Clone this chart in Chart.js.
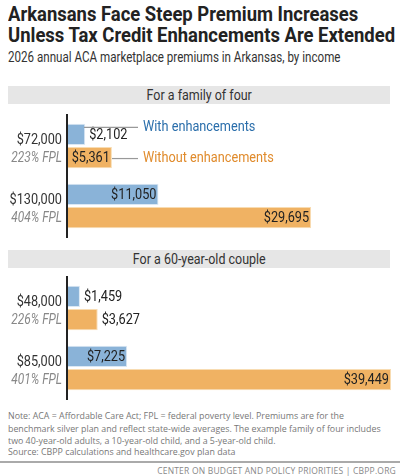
<!DOCTYPE html>
<html><head><meta charset="utf-8">
<script src="https://cdn.jsdelivr.net/npm/chart.js@4"></script>
<style>
body{margin:0;width:400px;height:476px;background:#fff;position:relative;font-family:"Roboto",sans-serif;color:#333;overflow:hidden}
.sx{transform-origin:0 0;white-space:nowrap}
.t{position:absolute;left:8px;top:4px;font:bold 20.5px "Roboto",sans-serif;line-height:21px;color:#222;transform:scaleX(0.9)}
.s{position:absolute;left:8px;top:49px;font:14.5px "Roboto",sans-serif;color:#333;transform:scaleX(0.8)}
.h{position:absolute;left:8px;width:382px;height:18px;background:#e6e6e6;text-align:center;line-height:18px;color:#333}
.h span{display:inline-block;font:14.5px "Roboto",sans-serif;transform:scaleX(0.86)}
.n{position:absolute;left:8px;font:9.3px "Open Sans",sans-serif;color:#777;line-height:12.5px;transform:scaleX(0.95)}
.line{position:absolute;left:0;top:461px;width:400px;height:2px;background:#aaa}
.f{position:absolute;right:4px;top:465px;font:8.5px "Open Sans",sans-serif;color:#888;letter-spacing:0.2px}
canvas{position:absolute;left:0}
</style></head><body>
<div class="t sx">Arkansans Face Steep Premium Increases<br>Unless Tax Credit Enhancements Are Extended</div>
<div class="s sx">2026 annual ACA marketplace premiums in Arkansas, by income</div>
<div class="h" style="top:86px"><span>For a family of four</span></div>
<div class="h" style="top:250px"><span>For a 60-year-old couple</span></div>
<div style="position:absolute;top:110px;left:0;width:400px;height:132px"><canvas id="c1"></canvas></div>
<div style="position:absolute;top:272px;left:0;width:400px;height:132px"><canvas id="c2"></canvas></div>
<div class="n sx" style="top:410px">Note: ACA = Affordable Care Act; FPL = federal poverty level. Premiums are for the<br>benchmark silver plan and reflect state-wide averages. The example family of four includes<br>two 40-year-old adults, a 10-year-old child, and a 5-year-old child.</div>
<div class="n sx" style="top:446px">Source: CBPP calculations and healthcare.gov plan data</div>
<div class="line"></div>
<div class="f">CENTER ON BUDGET AND POLICY PRIORITIES | CBPP.ORG</div>
<script>
const familyIncomes=["$72,000","$130,000"];
const familyFPL=["223% FPL","404% FPL"];
const familyWith=[2102,11050];
const familyWithout=[5361,29695];
const coupleIncomes=["$48,000","$85,000"];
const coupleFPL=["226% FPL","401% FPL"];
const coupleWith=[1459,7225];
const coupleWithout=[3627,39449];
const seriesNames=["With enhancements","Without enhancements"];
const BLUE="#8ab3d8",ORANGE="#f0b263",MAX=39449;
const fmt=v=>"$"+v.toLocaleString("en-US");
const FONT='"Roboto",sans-serif', SX=0.82;
function txt(c,t,x,y,align){
  const w=c.measureText(t).width*SX;
  const x0=align==="right"?x-w:x;
  c.save();c.translate(x0,y);c.scale(SX,1);c.textAlign="left";c.fillText(t,0,0);c.restore();
  return w;
}
function make(id,incomes,fpl,w,wo,legend){
  const plug={id:"p"+id,afterDatasetsDraw(ch){
    const c=ch.ctx,a=ch.chartArea,y=ch.scales.y;
    c.save();
    c.strokeStyle="#222";c.lineWidth=2;
    c.beginPath();c.moveTo(a.left-1,a.top-2);c.lineTo(a.left-1,a.bottom+2);c.stroke();
    c.textBaseline="middle";
    incomes.forEach((inc,i)=>{
      const cy=y.getPixelForValue(i);
      c.fillStyle="#333";c.font="15.5px "+FONT;txt(c,inc,a.left-6,cy-6,"right");
      c.fillStyle="#888";c.font="italic 14.5px "+FONT;txt(c,fpl[i],a.left-6,cy+12,"right");
    });
    c.font="15.5px "+FONT;
    ch.data.datasets.forEach((ds,di)=>{
      ch.getDatasetMeta(di).data.forEach((b,i)=>{
        const t=fmt(ds.data[i]),tw=c.measureText(t).width*SX;
        c.fillStyle="#222";
        if(b.x-a.left>tw) txt(c,t,b.x-2,b.y+1,"right");
        else txt(c,t,b.x+4,b.y+1,"left");
      });
    });
    if(legend){
      const m0=ch.getDatasetMeta(0).data[0],m1=ch.getDatasetMeta(1).data[0];
      c.strokeStyle="#999";c.lineWidth=1.2;
      c.beginPath();c.moveTo(84,m0.y-7);c.lineTo(138,m0.y-7);c.stroke();
      c.beginPath();c.moveTo(112,m1.y+1);c.lineTo(138,m1.y+1);c.stroke();
      c.fillStyle="#2a6eab";txt(c,seriesNames[0],143,m0.y-7,"left");
      c.fillStyle="#e08b2c";txt(c,seriesNames[1],143,m1.y+1,"left");
    }
    c.restore();
  }};
  new Chart(document.getElementById(id),{type:"bar",
    data:{labels:incomes,datasets:[
      {label:seriesNames[0],data:w,backgroundColor:BLUE,borderColor:"#dbe8f4",borderWidth:1,categoryPercentage:0.77,barPercentage:0.92},
      {label:seriesNames[1],data:wo,backgroundColor:ORANGE,borderColor:"#f8dcb2",borderWidth:1,categoryPercentage:0.77,barPercentage:0.92}]},
    options:{indexAxis:"y",responsive:true,maintainAspectRatio:false,animation:false,
      layout:{padding:{left:68,right:9,top:6,bottom:6}},
      plugins:{legend:{display:false},tooltip:{enabled:false}},
      scales:{x:{min:0,max:MAX,display:false},y:{display:false}}},
    plugins:[plug]});
}
make("c1",familyIncomes,familyFPL,familyWith,familyWithout,true);
make("c2",coupleIncomes,coupleFPL,coupleWith,coupleWithout,false);
</script></body></html>
